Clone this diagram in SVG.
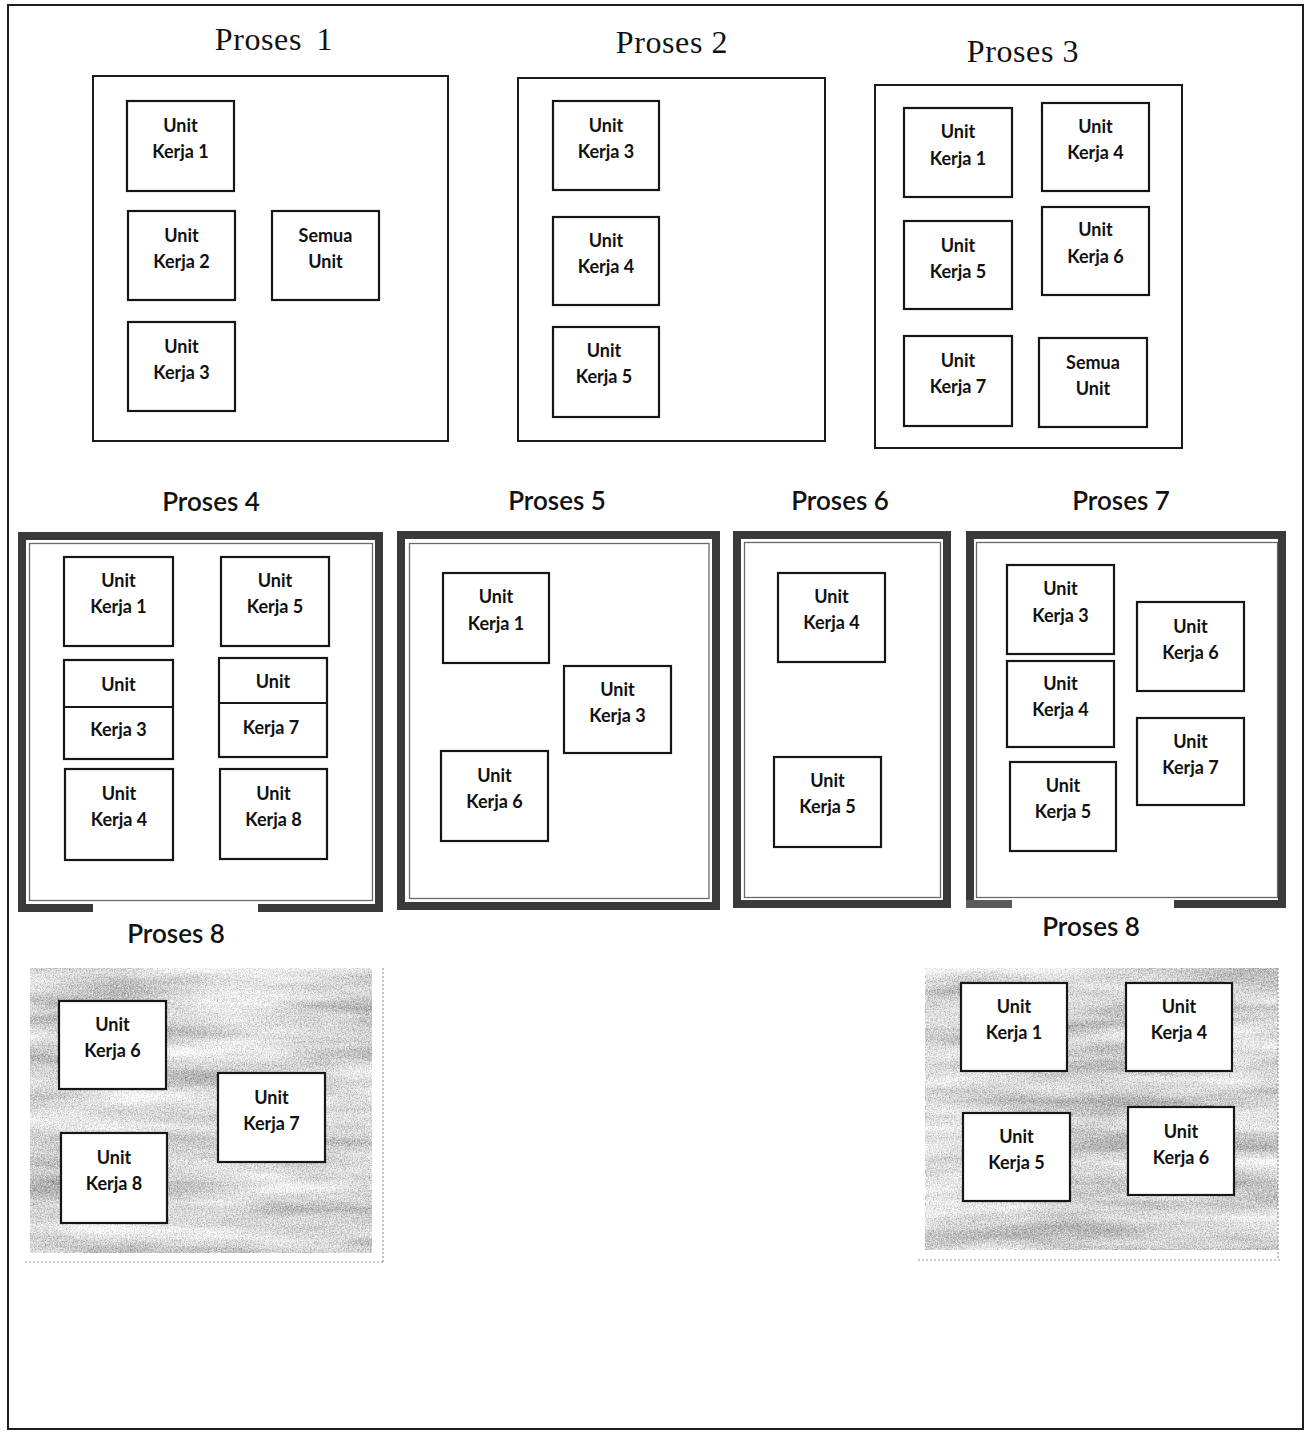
<svg xmlns="http://www.w3.org/2000/svg" width="1312" height="1432" viewBox="0 0 1312 1432">
<defs>
<style>
.bg{fill:#ffffff}
.outer{fill:none;stroke:#1e1e1e;stroke-width:2}
.cont{fill:#ffffff;stroke:#1a1a1a;stroke-width:2}
.band{fill:none;stroke:#3a3a3a;stroke-width:8}
.inner{fill:none;stroke:#6a6a6a;stroke-width:1.3}
.gap{fill:#ffffff;stroke:none}
.box{fill:#ffffff;stroke:#161616;stroke-width:2.2}
.div{stroke:#161616;stroke-width:2}
.lbl{font-family:Lato,"Open Sans","Liberation Sans",sans-serif;font-weight:bold;font-size:18px;fill:#111;text-anchor:middle}
.tser{font-family:"Liberation Serif","Times New Roman",serif;font-size:32px;fill:#111;text-anchor:middle;letter-spacing:0.6px}
.tsan{font-family:Lato,"Open Sans","Liberation Sans",sans-serif;font-weight:600;font-size:26px;fill:#111;text-anchor:middle}
.dot{fill:none;stroke:#9a9a9a;stroke-width:1.2;stroke-dasharray:2 2}
</style>
<filter id="grain" x="0" y="0" width="1" height="1" color-interpolation-filters="sRGB">
<feTurbulence type="fractalNoise" baseFrequency="0.006 0.045" numOctaves="3" seed="11" result="low"/>
<feColorMatrix in="low" type="matrix" values="1 0 0 0 0 1 0 0 0 0 1 0 0 0 0 0 0 0 0 1" result="lowO"/>
<feTurbulence type="fractalNoise" baseFrequency="0.75" numOctaves="1" seed="4" result="high"/>
<feColorMatrix in="high" type="matrix" values="1 0 0 0 0 1 0 0 0 0 1 0 0 0 0 0 0 0 0 1" result="highO"/>
<feComposite in="lowO" in2="highO" operator="arithmetic" k1="0" k2="0.6" k3="0.8" k4="-0.15" result="mix"/>
<feComponentTransfer in="mix">
<feFuncR type="discrete" tableValues="0.45 0.6 0.74 0.87 0.97 1"/>
<feFuncG type="discrete" tableValues="0.45 0.6 0.74 0.87 0.97 1"/>
<feFuncB type="discrete" tableValues="0.45 0.6 0.74 0.87 0.97 1"/>
<feFuncA type="linear" slope="0" intercept="1"/>
</feComponentTransfer>
</filter>
</defs>

<rect class="bg" x="0" y="0" width="1312" height="1432"/>
<rect class="outer" x="8" y="5" width="1295" height="1424"/>

<!-- Proses 1 -->
<g id="proses1">
<text class="tser" x="274" y="50" word-spacing="6">Proses 1</text>
<rect class="cont" x="93" y="76" width="355" height="365"/>
</g>
<g id="p1-unit1"><rect class="box" x="127" y="101" width="107" height="90"/><text class="lbl" x="180.5" y="132">Unit</text><text class="lbl" x="180.5" y="158">Kerja 1</text></g>
<g id="p1-unit2"><rect class="box" x="128" y="211" width="107" height="89"/><text class="lbl" x="181.5" y="242">Unit</text><text class="lbl" x="181.5" y="268">Kerja 2</text></g>
<g id="p1-semua"><rect class="box" x="272" y="211" width="107" height="89"/><text class="lbl" x="325.5" y="242">Semua</text><text class="lbl" x="325.5" y="268">Unit</text></g>
<g id="p1-unit3"><rect class="box" x="128" y="322" width="107" height="89"/><text class="lbl" x="181.5" y="353">Unit</text><text class="lbl" x="181.5" y="379">Kerja 3</text></g>

<!-- Proses 2 -->
<g id="proses2">
<text class="tser" x="672" y="53">Proses 2</text>
<rect class="cont" x="518" y="78" width="307" height="363"/>
</g>
<g id="p2-unit3"><rect class="box" x="553" y="101" width="106" height="89"/><text class="lbl" x="606" y="132">Unit</text><text class="lbl" x="606" y="158">Kerja 3</text></g>
<g id="p2-unit4"><rect class="box" x="553" y="217" width="106" height="88"/><text class="lbl" x="606" y="247">Unit</text><text class="lbl" x="606" y="273">Kerja 4</text></g>
<g id="p2-unit5"><rect class="box" x="553" y="327" width="106" height="90"/><text class="lbl" x="604" y="357">Unit</text><text class="lbl" x="604" y="383">Kerja 5</text></g>

<!-- Proses 3 -->
<g id="proses3">
<text class="tser" x="1023" y="62">Proses 3</text>
<rect class="cont" x="875" y="85" width="307" height="363"/>
</g>
<g id="p3-unit1"><rect class="box" x="904" y="108" width="108" height="89"/><text class="lbl" x="958" y="138">Unit</text><text class="lbl" x="958" y="165">Kerja 1</text></g>
<g id="p3-unit4"><rect class="box" x="1042" y="103" width="107" height="88"/><text class="lbl" x="1095.5" y="133">Unit</text><text class="lbl" x="1095.5" y="159">Kerja 4</text></g>
<g id="p3-unit5"><rect class="box" x="904" y="221" width="108" height="88"/><text class="lbl" x="958" y="252">Unit</text><text class="lbl" x="958" y="278">Kerja 5</text></g>
<g id="p3-unit6"><rect class="box" x="1042" y="207" width="107" height="88"/><text class="lbl" x="1095.5" y="236">Unit</text><text class="lbl" x="1095.5" y="263">Kerja 6</text></g>
<g id="p3-unit7"><rect class="box" x="904" y="336" width="108" height="90"/><text class="lbl" x="958" y="367">Unit</text><text class="lbl" x="958" y="393">Kerja 7</text></g>
<g id="p3-semua"><rect class="box" x="1039" y="338" width="108" height="89"/><text class="lbl" x="1093" y="369">Semua</text><text class="lbl" x="1093" y="395">Unit</text></g>

<!-- Proses 4 -->
<g id="proses4">
<text class="tsan" x="211" y="511">Proses 4</text>
<rect class="band" x="22" y="536" width="357" height="372"/>
<rect class="gap" x="93" y="903" width="165" height="11"/>
<rect class="inner" x="29.5" y="543.5" width="343" height="357"/>
</g>
<g id="p4-unit1"><rect class="box" x="64" y="557" width="109" height="89"/><text class="lbl" x="118.5" y="587">Unit</text><text class="lbl" x="118.5" y="613">Kerja 1</text></g>
<g id="p4-unit5"><rect class="box" x="221" y="557" width="108" height="89"/><text class="lbl" x="275" y="587">Unit</text><text class="lbl" x="275" y="613">Kerja 5</text></g>
<g id="p4-unit3"><rect class="box" x="64" y="660" width="109" height="99"/><line class="div" x1="64" y1="707" x2="173" y2="707"/><text class="lbl" x="118.5" y="691">Unit</text><text class="lbl" x="118.5" y="736">Kerja 3</text></g>
<g id="p4-unit7"><rect class="box" x="219" y="658" width="108" height="99"/><line class="div" x1="219" y1="703" x2="327" y2="703"/><text class="lbl" x="273" y="688">Unit</text><text class="lbl" x="271" y="734">Kerja 7</text></g>
<g id="p4-unit4"><rect class="box" x="65" y="769" width="108" height="91"/><text class="lbl" x="119" y="800">Unit</text><text class="lbl" x="119" y="826">Kerja 4</text></g>
<g id="p4-unit8"><rect class="box" x="220" y="769" width="107" height="90"/><text class="lbl" x="273.5" y="800">Unit</text><text class="lbl" x="273.5" y="826">Kerja 8</text></g>

<!-- Proses 5 -->
<g id="proses5">
<text class="tsan" x="557" y="510">Proses 5</text>
<rect class="band" x="401" y="535" width="315" height="371"/>
<rect class="inner" x="409.5" y="543.5" width="299.5" height="355"/>
</g>
<g id="p5-unit1"><rect class="box" x="443" y="573" width="106" height="90"/><text class="lbl" x="496" y="603">Unit</text><text class="lbl" x="496" y="630">Kerja 1</text></g>
<g id="p5-unit3"><rect class="box" x="564" y="666" width="107" height="87"/><text class="lbl" x="617.5" y="696">Unit</text><text class="lbl" x="617.5" y="722">Kerja 3</text></g>
<g id="p5-unit6"><rect class="box" x="441" y="751" width="107" height="90"/><text class="lbl" x="494.5" y="782">Unit</text><text class="lbl" x="494.5" y="808">Kerja 6</text></g>

<!-- Proses 6 -->
<g id="proses6">
<text class="tsan" x="840" y="510">Proses 6</text>
<rect class="band" x="737" y="535" width="210" height="369"/>
<rect class="inner" x="744.5" y="542.5" width="196" height="355"/>
</g>
<g id="p6-unit4"><rect class="box" x="778" y="573" width="107" height="89"/><text class="lbl" x="831.5" y="603">Unit</text><text class="lbl" x="831.5" y="629">Kerja 4</text></g>
<g id="p6-unit5"><rect class="box" x="774" y="757" width="107" height="90"/><text class="lbl" x="827.5" y="787">Unit</text><text class="lbl" x="827.5" y="813">Kerja 5</text></g>

<!-- Proses 7 -->
<g id="proses7">
<text class="tsan" x="1121" y="510">Proses 7</text>
<rect class="band" x="970" y="535" width="312" height="369"/>
<rect class="gap" x="1012" y="899" width="162" height="11"/>
<rect x="966" y="900" width="46" height="8" fill="#5a5a5a"/>
<rect class="inner" x="976.5" y="542.5" width="301" height="355"/>
</g>
<g id="p7-unit3"><rect class="box" x="1007" y="565" width="107" height="89"/><text class="lbl" x="1060.5" y="595">Unit</text><text class="lbl" x="1060.5" y="622">Kerja 3</text></g>
<g id="p7-unit6"><rect class="box" x="1137" y="602" width="107" height="89"/><text class="lbl" x="1190.5" y="633">Unit</text><text class="lbl" x="1190.5" y="659">Kerja 6</text></g>
<g id="p7-unit4"><rect class="box" x="1007" y="661" width="107" height="86"/><text class="lbl" x="1060.5" y="690">Unit</text><text class="lbl" x="1060.5" y="716">Kerja 4</text></g>
<g id="p7-unit7"><rect class="box" x="1137" y="718" width="107" height="87"/><text class="lbl" x="1190.5" y="748">Unit</text><text class="lbl" x="1190.5" y="774">Kerja 7</text></g>
<g id="p7-unit5"><rect class="box" x="1010" y="762" width="106" height="89"/><text class="lbl" x="1063" y="792">Unit</text><text class="lbl" x="1063" y="818">Kerja 5</text></g>

<!-- Proses 8 (left) -->
<g id="proses8-left">
<text class="tsan" x="176" y="943">Proses 8</text>
<rect x="30" y="968" width="342" height="285" fill="#ccc" filter="url(#grain)"/>
<path class="dot" d="M25 1262 H383 M383 968 V1262"/>
</g>
<g id="p8l-unit6"><rect class="box" x="59" y="1001" width="107" height="88"/><text class="lbl" x="112.5" y="1031">Unit</text><text class="lbl" x="112.5" y="1057">Kerja 6</text></g>
<g id="p8l-unit7"><rect class="box" x="218" y="1073" width="107" height="89"/><text class="lbl" x="271.5" y="1104">Unit</text><text class="lbl" x="271.5" y="1130">Kerja 7</text></g>
<g id="p8l-unit8"><rect class="box" x="61" y="1133" width="106" height="90"/><text class="lbl" x="114" y="1164">Unit</text><text class="lbl" x="114" y="1190">Kerja 8</text></g>

<!-- Proses 8 (right) -->
<g id="proses8-right">
<text class="tsan" x="1091" y="936">Proses 8</text>
<rect x="925" y="968" width="353" height="282" fill="#ccc" filter="url(#grain)"/>
<path class="dot" d="M918 1260 H1280 M1278 968 V1260"/>
</g>
<g id="p8r-unit1"><rect class="box" x="961" y="983" width="106" height="88"/><text class="lbl" x="1014" y="1013">Unit</text><text class="lbl" x="1014" y="1039">Kerja 1</text></g>
<g id="p8r-unit4"><rect class="box" x="1126" y="983" width="106" height="88"/><text class="lbl" x="1179" y="1013">Unit</text><text class="lbl" x="1179" y="1039">Kerja 4</text></g>
<g id="p8r-unit5"><rect class="box" x="963" y="1113" width="107" height="88"/><text class="lbl" x="1016.5" y="1143">Unit</text><text class="lbl" x="1016.5" y="1169">Kerja 5</text></g>
<g id="p8r-unit6"><rect class="box" x="1128" y="1107" width="106" height="88"/><text class="lbl" x="1181" y="1138">Unit</text><text class="lbl" x="1181" y="1164">Kerja 6</text></g>

<g id="connectors"/>
</svg>
